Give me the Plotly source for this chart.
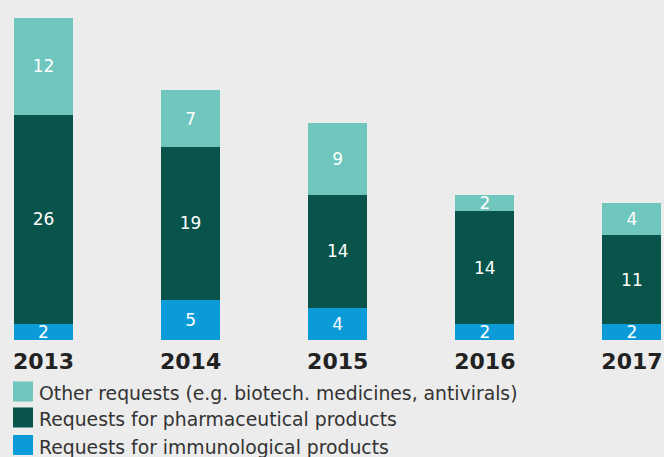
import plotly.graph_objects as go

years = ["2013", "2014", "2015", "2016", "2017"]
immunological = [2, 5, 4, 2, 2]
pharmaceutical = [26, 19, 14, 14, 11]
other = [12, 7, 9, 2, 4]

series_names = [
    "Requests for immunological products",
    "Requests for pharmaceutical products",
    "Other requests (e.g. biotech. medicines, antivirals)",
]
series_values = [immunological, pharmaceutical, other]
colors = ["#0a9bd8", "#08544a", "#6ec6bd"]

W, H = 664, 457
plot_h = 340  # plot area height in px (bars sit on y=340)

def py(pix):
    # pixel row -> paper y
    return (plot_h - pix) / plot_h

x = list(range(len(years)))
fig = go.Figure()
for name, vals, col in zip(series_names, series_values, colors):
    fig.add_trace(go.Bar(
        x=x, y=vals, name=name, marker_color=col, marker_line_width=0,
        width=0.401, text=vals, textposition="inside", textangle=0,
        insidetextanchor="middle", constraintext="none",
        textfont=dict(color="white", size=17, family="DejaVu Sans"),
        showlegend=False,
    ))

# legend drawn by hand: squares + text, top row is "Other requests"
rows = [(391.5, 2), (417.5, 1), (445, 0)]
for cy, i in rows:
    fig.add_shape(type="rect", xref="paper", yref="paper",
                  x0=13 / W, x1=33 / W, y0=py(cy + 10), y1=py(cy - 10),
                  fillcolor=colors[i], line_width=0)
    fig.add_annotation(xref="paper", yref="paper", x=37 / W, y=py(cy + 2),
                       xanchor="left", yanchor="middle", showarrow=False,
                       text=series_names[i],
                       font=dict(size=18.8, color="#333333", family="DejaVu Sans"))

fig.update_layout(
    width=W, height=H, barmode="stack",
    margin=dict(l=0, r=0, t=0, b=H - plot_h, autoexpand=False),
    paper_bgcolor="#ececec", plot_bgcolor="#ececec",
    uniformtext=dict(minsize=17, mode="show"),
    xaxis=dict(range=[-0.2957, 4.218], tickvals=x, automargin=False,
               ticktext=["<b>" + y + "</b>" for y in years],
               ticklabelstandoff=6,
               tickfont=dict(size=22, color="#222222", family="DejaVu Sans"),
               showgrid=False, zeroline=False, showline=False, ticks=""),
    yaxis=dict(range=[0, 42.24], visible=False, automargin=False),
)
# drop the browser's default 8px body margin
fig.write_html("out.html", config={"displayModeBar": False},
               post_script="document.body.style.margin='0';document.body.style.overflow='hidden';")
